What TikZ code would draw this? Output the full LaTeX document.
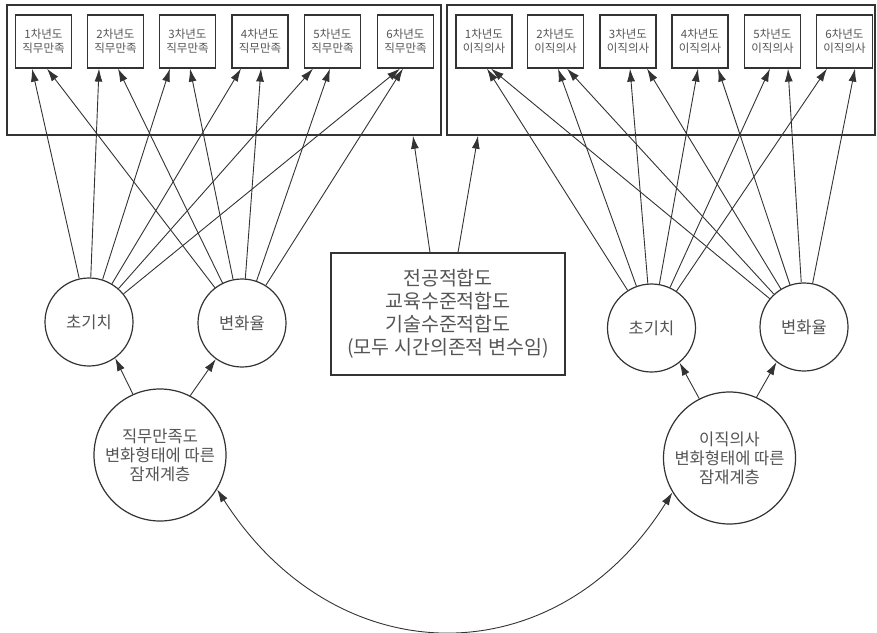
\documentclass[tikz,border=0pt]{standalone}
\usepackage{fontspec}
\setmainfont{Noto Sans CJK KR}
\usetikzlibrary{arrows.meta}
\definecolor{ln}{HTML}{333333}
\definecolor{tx}{HTML}{555555}
\tikzset{
 arr/.style={draw=ln, line width=0.9pt, -{Latex[length=13pt,width=8pt]}},
 darr/.style={draw=ln, line width=0.9pt, {Latex[length=13pt,width=8pt]}-{Latex[length=13pt,width=8pt]}},
 outerbox/.style={draw=ln, line width=1.5pt, inner sep=0pt},
 obsbox/.style={draw=ln, line width=1.2pt, minimum width=56pt, minimum height=53pt, inner sep=0pt, text=tx, align=center, font=\fontsize{11.5}{14}\selectfont},
 latc/.style={circle, draw=ln, line width=1.2pt, minimum size=88pt, inner sep=0pt, text=tx, font=\fontsize{16.5}{19}\selectfont},
 bigc/.style={circle, draw=ln, line width=1.2pt, minimum size=132pt, inner sep=0pt, text=tx, align=center, font=\fontsize{16.5}{19}\selectfont},
 cvbox/.style={draw=ln, line width=1.2pt, minimum width=234pt, minimum height=122pt, inner sep=0pt, text=tx, align=center, font=\fontsize{19.5}{23}\selectfont}
}
\begin{document}
\begin{tikzpicture}[x=1pt,y=-1pt]
\useasboundingbox (0,0) rectangle (877,632);
% outer boxes
\node[outerbox, minimum width=434pt, minimum height=130pt] (lbox) at (224,70) {};
\node[outerbox, minimum width=428pt, minimum height=130pt] (rbox) at (661,70) {};
% observed boxes
\foreach \i/\x in {1/43.5,2/115.5,3/187.5,4/260,5/332.5,6/405.5}{
  \node[obsbox] (j\i) at (\x,41.5) {{\i}차년도\\직무만족};
}
\foreach \i/\x in {1/484,2/555.5,3/628,4/700,5/772.5,6/844.5}{
  \node[obsbox] (t\i) at (\x,41.5) {{\i}차년도\\이직의사};
}
% latent growth factors
\node[latc] (li) at (89,322) {초기치};
\node[latc] (ls) at (242,323) {변화율};
\node[latc] (ri) at (651.5,328) {초기치};
\node[latc] (rs) at (804,327) {변화율};
% latent classes
\node[bigc] (lc) at (160,455) {직무만족도\\변화형태에 따른\\잠재계층};
\node[bigc] (rc) at (729.5,458) {이직의사\\변화형태에 따른\\잠재계층};
% covariate box
\node[cvbox] (cv) at (448,314) {전공적합도\\교육수준적합도\\기술수준적합도\\(모두 시간의존적 변수임)};
% loadings
\foreach \i/\a/\b in {1/-11.5/3.5,2/-16.5/2.5,3/-17.5/2.5,4/-19/1,5/-19.5/-2.5,6/-5.5/-2.5}{
  \draw[arr] (li) -- ([xshift=\a pt]j\i.south);
  \draw[arr] (ls) -- ([xshift=\b pt]j\i.south);
}
\foreach \i/\a/\b in {1/3/7,2/2.5/11.5,3/2/19,4/-2/18,5/-2.5/15.5,6/-17.5/10.5}{
  \draw[arr] (ri) -- ([xshift=\a pt]t\i.south);
  \draw[arr] (rs) -- ([xshift=\b pt]t\i.south);
}
% class to growth factors
\draw[arr] (lc.114) -- (li.-54);
\draw[arr] (lc.63) -- (ls.-126);
\draw[arr] (rc.117) -- (ri.-51);
\draw[arr] (rc.66) -- (rs.-128);
% covariates
\draw[arr] ([xshift=-18pt]cv.north) -- ([xshift=189pt]lbox.south);
\draw[arr] ([xshift=10pt]cv.north) -- ([xshift=-183pt]rbox.south);
% class association
\draw[darr] (lc.-31) .. controls (337,677) and (557,677) .. (rc.-149);
\end{tikzpicture}
\end{document}
